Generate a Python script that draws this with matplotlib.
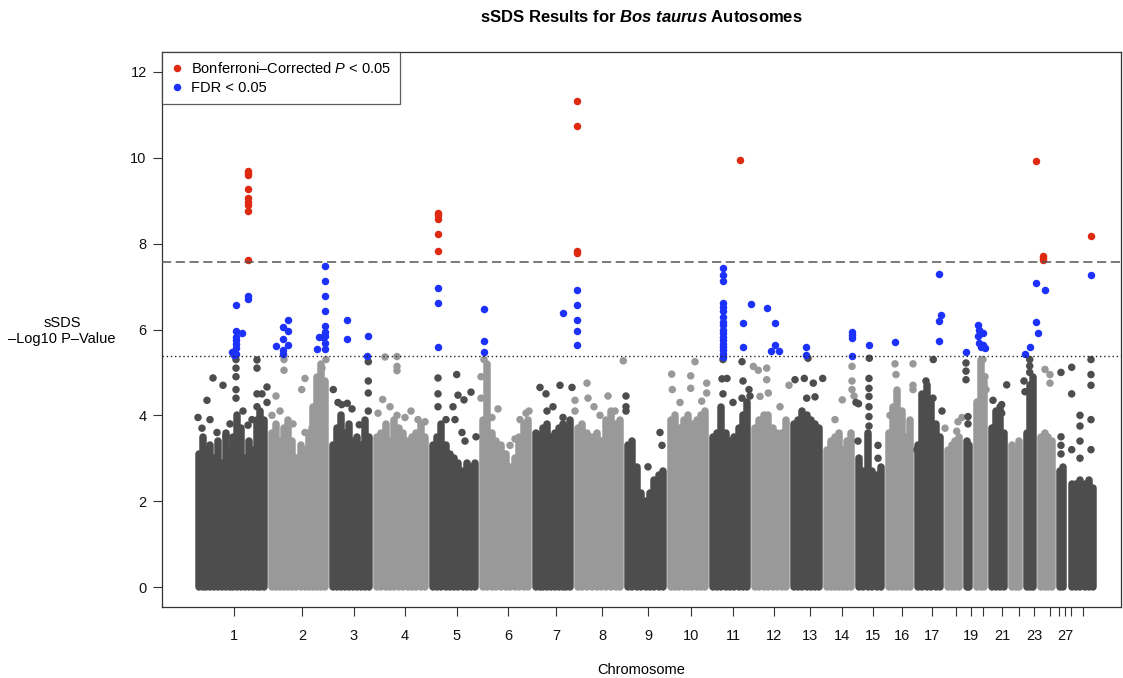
import matplotlib
matplotlib.use("Agg")
import matplotlib.pyplot as plt
import numpy as np
from matplotlib.lines import Line2D

plt.rcParams['font.family'] = ['Liberation Sans', 'DejaVu Sans']
plt.rcParams['mathtext.fontset'] = 'custom'
plt.rcParams['mathtext.rm'] = 'Liberation Sans'
plt.rcParams['mathtext.it'] = 'Liberation Sans:italic'
plt.rcParams['mathtext.bf'] = 'Liberation Sans:bold'
plt.rcParams['mathtext.bfit'] = 'Liberation Sans:bold:italic'

# ---------------- data (x in cumulative genome position units) ----------------
block_start = [195, 268, 329, 373, 429, 479, 532, 574, 624, 667, 709, 751, 790,
               823, 855, 885, 914, 944, 963, 973, 988, 1008, 1023, 1037, 1056, 1068]
block_end = [268, 329, 373, 429, 479, 532, 574, 624, 667, 709, 751, 790, 823,
             855, 885, 914, 944, 963, 973, 988, 1008, 1023, 1037, 1056, 1067, 1097]
block_shade = ['d', 'l', 'd', 'l', 'd', 'l', 'd', 'l', 'd', 'l', 'd', 'l', 'd',
               'l', 'd', 'l', 'd', 'l', 'd', 'l', 'd', 'l', 'd', 'l', 'd', 'd']

# dense-mass ceiling (-log10 p) sampled evenly across each chromosome block
skyline = [
    [3.1, 3.5, 3.2, 3.3, 3.0, 3.4, 2.9, 3.6, 3.2, 3.5, 4.0, 3.7, 3.0, 3.4, 3.2, 3.9, 4.1, 3.9],
    [3.6, 3.8, 3.4, 3.7, 3.9, 3.4, 3.0, 3.3, 3.2, 3.6, 4.2, 4.9, 5.2, 4.8],
    [3.3, 3.7, 4.0, 3.6, 3.8, 3.4, 3.5, 3.3, 3.9, 3.5],
    [3.5, 3.6, 3.8, 3.4, 3.9, 3.7, 3.6, 3.4, 3.5, 3.6, 3.8, 3.5],
    [3.3, 3.5, 3.8, 3.3, 3.1, 3.0, 2.9, 2.7, 2.9, 2.8, 2.9],
    [3.9, 5.2, 3.6, 3.4, 3.3, 3.1, 2.8, 3.0, 3.5, 3.8, 3.9],
    [3.6, 3.5, 3.7, 3.8, 3.5, 3.6, 3.7, 3.8, 3.7, 3.9],
    [3.7, 3.8, 3.6, 3.5, 3.6, 3.4, 3.9, 4.1, 3.8, 3.9],
    [3.3, 3.4, 2.8, 2.2, 2.0, 2.2, 2.5, 2.6, 2.7],
    [3.9, 4.0, 3.7, 3.9, 4.0, 3.8, 3.9, 4.0, 4.1],
    [3.5, 3.6, 4.2, 3.6, 3.4, 3.5, 3.7, 4.0, 4.3],
    [3.7, 3.9, 4.0, 4.0, 3.7, 3.6, 3.6, 3.9],
    [3.8, 3.9, 4.1, 4.0, 3.9, 3.8, 3.7],
    [3.2, 3.4, 3.5, 3.6, 3.2, 3.4, 3.6],
    [3.0, 2.7, 3.6, 2.7, 2.6, 2.8],
    [3.6, 4.2, 4.6, 4.1, 3.5, 3.9],
    [3.3, 4.5, 4.7, 4.3, 3.8, 3.5],
    [3.2, 3.3, 3.4, 3.5],
    [3.4, 3.3],
    [4.3, 5.3, 4.8],
    [3.7, 4.1, 4.2, 3.6],
    [3.3, 3.1, 3.4],
    [3.6, 4.7, 4.9],
    [3.5, 3.6, 3.5, 3.4],
    [2.7, 2.8],
    [2.4, 2.4, 2.5, 2.4, 2.5, 2.3],
]

# scattered non-significant SNPs above the dense mass
gray_x = [198, 207, 213, 223, 217, 226, 236, 236, 236, 236, 236, 248, 257, 257, 257, 257, 267, 267,
          202, 210, 230, 243, 252, 262,
          276, 284, 284, 301.7, 305, 305, 322, 326, 272, 280, 293, 312,
          333.3, 341.7, 347.3, 359.3, 368.3, 368.3, 368.3, 368.3, 338, 352,
          385, 382.7, 397, 397, 397, 397, 405, 418, 425, 378, 390, 411,
          438, 438, 438, 456.7, 453, 458, 464, 471, 455, 462, 465, 446, 476,
          484, 481, 481, 492, 498, 510, 515, 526, 529, 520,
          540, 546, 547, 560, 572, 575, 575, 563, 553,
          587, 588, 608, 623.3, 600, 615, 594,
          626, 626, 626, 660, 662, 648,
          671.7, 672.3, 690.7, 690.7, 695, 701.7, 706.7, 706.7, 680,
          723, 722, 727, 723, 742, 743, 742, 750, 749, 733,
          753.3, 758.3, 766.7, 766.7, 768.3, 760, 780, 789,
          795, 804.3, 813.3, 822.7, 806.7, 815, 808,
          842.3, 835, 852, 852, 852, 854, 856,
          869.3, 869, 869, 869, 869, 869, 869, 858.5, 858, 878, 878,
          895, 896, 913, 913, 913, 890,
          933.3, 926, 933, 942, 945, 917,
          956.7, 962, 958,
          966, 966, 966, 968, 968,
          983, 985, 986,
          1006.7, 1001.7, 1001.7, 993,
          1015,
          1029.7, 1029.7, 1029.7, 1024, 1025,
          1045, 1050, 1050,
          1061, 1061, 1061, 1061,
          1071.7, 1071.7, 1071.7, 1080, 1080, 1080, 1080, 1091, 1091, 1091, 1091, 1091]
gray_y = [3.95, 4.35, 4.87, 4.7, 3.6, 3.5, 5.3, 5.1, 4.9, 4.6, 4.4, 3.77, 5.29, 5.1, 4.5, 4.2, 4.66, 4.3,
          3.7, 3.9, 3.8, 4.1, 3.9, 4.5,
          4.45, 5.05, 5.3, 4.6, 4.86, 3.6, 5.1, 5.3, 4.0, 4.1, 3.8, 3.7,
          4.6, 4.25, 4.28, 3.78, 5.25, 4.8, 4.52, 4.1, 4.3, 4.15,
          5.36, 4.37, 5.37, 5.14, 5.04, 4.0, 3.95, 3.9, 3.85, 4.05, 4.2, 4.1,
          4.87, 4.5, 4.2, 4.95, 4.2, 4.47, 4.36, 4.54, 3.9, 3.6, 3.4, 3.9, 3.5,
          5.3, 4.9, 4.4, 3.95, 4.15, 3.3, 3.45, 4.05, 4.1, 3.9,
          4.65, 4.5, 4.1, 4.7, 4.65, 4.35, 4.1, 3.95, 4.2,
          4.75, 4.4, 4.45, 5.27, 4.0, 4.1, 4.2,
          4.45, 4.2, 4.1, 3.6, 3.3, 2.8,
          4.96, 4.6, 4.92, 4.63, 5.25, 4.33, 4.75, 4.52, 4.3,
          5.3, 4.85, 4.86, 4.5, 5.25, 4.8, 4.4, 4.45, 4.6, 4.3,
          5.14, 5.05, 5.1, 4.83, 4.52, 4.44, 4.2, 4.7,
          4.83, 4.86, 4.75, 4.86, 4.4, 4.43, 5.33,
          4.36, 3.9, 5.14, 4.8, 4.6, 4.45, 4.3,
          5.33, 4.86, 4.63, 4.44, 4.2, 3.97, 3.75, 4.27, 3.4, 3.3, 3.0,
          5.2, 4.95, 5.2, 4.7, 4.6, 4.0,
          5.3, 4.8, 4.4, 4.1, 3.7, 3.2,
          3.63, 3.95, 3.85,
          5.22, 5.03, 4.83, 3.97, 3.8,
          5.3, 4.9, 4.6,
          4.71, 4.25, 4.05, 4.35,
          3.0,
          5.3, 5.15, 5.0, 4.8, 4.55,
          5.07, 4.95, 4.75,
          5.0, 3.5, 3.3, 3.1,
          5.12, 4.5, 3.2, 4.0, 3.75, 3.4, 3.0, 5.3, 4.95, 4.7, 3.9, 3.2]

# FDR < 0.05 SNPs
fdr_x = [236, 248.3, 248.3, 236, 241.7, 236, 236, 236, 236, 231.7, 236, 234,
         283.3, 288.3, 288.3, 283.3, 288.3, 276, 283.3, 283.3,
         325, 325, 325, 325, 325, 325, 325, 322.7, 319.3, 325, 325, 317.3,
         347.3, 347.3, 368.3, 366.7,
         438.3, 438.3, 438.3,
         484, 484, 484,
         563.3, 576.7, 576.7, 576.7, 576.7, 576.7,
         722.7, 722.7, 722.7, 722.7, 722.7, 722.7, 722.7, 722.7, 722.7,
         722.7, 722.7, 722.7, 722.7, 722.7, 722.7, 722.7, 722.7, 722.7,
         742.7, 742.7, 751, 767, 774.7, 774.7, 770.7, 779.3,
         805.7, 805.7,
         852.3, 852.3, 852.3, 852.3,
         869.3, 895,
         938.7, 941, 939.3, 938.7,
         966,
         977.7, 979, 981, 983, 977.7, 979, 981, 985, 983,
         1036, 1045.3, 1036, 1038.3, 1030, 1025,
         1090.7]
fdr_y = [6.57, 6.78, 6.70, 5.97, 5.93, 5.83, 5.75, 5.66, 5.57, 5.48, 5.44, 5.40,
         6.06, 6.22, 5.97, 5.78, 5.64, 5.62, 5.52, 5.44,
         7.49, 7.14, 6.79, 6.42, 6.08, 5.95, 5.85, 5.82, 5.82, 5.68, 5.54, 5.55,
         6.22, 5.77, 5.85, 5.38,
         6.96, 6.61, 5.60,
         6.48, 5.74, 5.48,
         6.38, 6.92, 6.57, 6.22, 5.97, 5.64,
         7.43, 7.27, 7.14, 6.61, 6.52, 6.42, 6.30, 6.18, 6.10,
         5.99, 5.91, 5.83, 5.75, 5.67, 5.59, 5.52, 5.44, 5.37,
         6.16, 5.59, 6.59, 6.51, 6.15, 5.65, 5.50, 5.50,
         5.59, 5.41,
         5.95, 5.88, 5.80, 5.38,
         5.64, 5.72,
         7.29, 6.34, 6.20, 5.74,
         5.48,
         6.10, 5.99, 5.93, 5.91, 5.85, 5.68, 5.60, 5.56, 5.64,
         7.08, 6.93, 6.17, 5.93, 5.60, 5.43,
         7.27]

# Bonferroni-significant SNPs
bonf_x = [248.3, 248.3, 248.3, 248.3, 248.3, 248.3, 248.3, 248.3, 248.3,
          438, 438, 438, 438, 438,
          576.7, 576.7, 576.7, 576.7,
          740,
          1036, 1043.3, 1043.3, 1043.3,
          1090.7]
bonf_y = [9.70, 9.64, 9.60, 9.28, 9.06, 8.98, 8.90, 8.77, 7.62,
          8.72, 8.66, 8.58, 8.22, 7.83,
          11.33, 10.74, 7.84, 7.78,
          9.95,
          9.93, 7.72, 7.67, 7.62,
          8.18]

bonf_threshold = 7.57
fdr_threshold = 5.38

tick_pos = [234, 302, 354, 405, 457, 508, 556, 602, 648, 691, 733, 774, 810, 842, 873,
            902, 932, 956, 971, 983, 1002, 1019, 1034, 1050, 1059, 1065, 1071, 1083]
tick_lab = ['1', '2', '3', '4', '5', '6', '7', '8', '9', '10', '11', '12', '13', '14', '15',
            '16', '17', '', '19', '', '21', '', '23', '', '', '27', '', '']

# ---------------- drawing ----------------
DARK = '#4d4d4d'
LIGHT = '#999999'
BLUE = '#1c32fa'
RED = '#dd2a10'

W, H = 1123, 678
fig = plt.figure(figsize=(W / 100, H / 100), dpi=100)
ax = fig.add_axes([162 / W, 1 - 607 / H, (1121 - 162) / W, (607 - 52) / H])

dot_px = 7.5
lw_pt = dot_px * 0.72
s_pt2 = (dot_px * 0.72) ** 2

for st, en, sh, hts in zip(block_start, block_end, block_shade, skyline):
    col = DARK if sh == 'd' else LIGHT
    xs = np.linspace(st + dot_px / 2, en - dot_px / 2, len(hts))
    lc = ax.vlines(xs, 0, hts, colors=col, linewidth=lw_pt, zorder=2)
    lc.set_capstyle('round')

gx = np.array(gray_x)
gy = np.array(gray_y)
gcol = []
for xv in gx:
    idx = 0
    for i, (st, en) in enumerate(zip(block_start, block_end)):
        if st <= xv <= en:
            idx = i
            break
        if xv > en:
            idx = i
    gcol.append(DARK if block_shade[idx] == 'd' else LIGHT)
ax.scatter(gx, gy, s=s_pt2, c=gcol, linewidths=0, zorder=3)

ax.scatter(fdr_x, fdr_y, s=s_pt2, color=BLUE, linewidths=0, zorder=4)
ax.scatter(bonf_x, bonf_y, s=s_pt2, color=RED, linewidths=0, zorder=5)

ax.axhline(bonf_threshold, color='#555555', lw=1.1, ls=(0, (6, 3)), zorder=6)
ax.axhline(fdr_threshold, color='#222222', lw=1.0, ls=(0, (1, 2)), zorder=6)

ax.set_xlim(162, 1121)
ax.set_ylim(-0.466, 12.466)
ax.set_yticks([0, 2, 4, 6, 8, 10, 12])
ax.set_xticks(tick_pos)
ax.set_xticklabels(tick_lab)
ax.tick_params(axis='both', direction='out', length=6.5, width=0.8, color='#333333',
               labelsize=10.5, labelcolor='#111111')
ax.tick_params(axis='x', pad=9.5)
ax.tick_params(axis='y', pad=4.5)
for sp in ax.spines.values():
    sp.set_linewidth(0.9)
    sp.set_color('#333333')

handles = [Line2D([], [], ls='none', marker='o', ms=dot_px * 0.72, color=RED, mew=0),
           Line2D([], [], ls='none', marker='o', ms=dot_px * 0.72, color=BLUE, mew=0)]
leg = ax.legend(handles, [r'Bonferroni–Corrected $\mathit{P}$ < 0.05', 'FDR < 0.05'],
                loc='upper left', bbox_to_anchor=(0, 1), borderaxespad=0, fontsize=10.5,
                frameon=True, fancybox=False, handlelength=0.8, handletextpad=0.6,
                borderpad=0.6, labelspacing=0.35)
leg.get_frame().set_edgecolor('#333333')
leg.get_frame().set_linewidth(0.9)

fig.text(641 / W, 1 - 17 / H, r'sSDS Results for $\mathbfit{Bos\ taurus}$ Autosomes',
         ha='center', va='center', fontsize=12, fontweight='bold')
fig.text(62 / W, 1 - 331 / H, 'sSDS\n–Log10 P–Value', ha='center', va='center',
         fontsize=10.5, linespacing=1.25)
fig.text(641 / W, 1 - 670 / H, 'Chromosome', ha='center', va='center', fontsize=10.5)

fig.savefig('out.png', dpi=100)
